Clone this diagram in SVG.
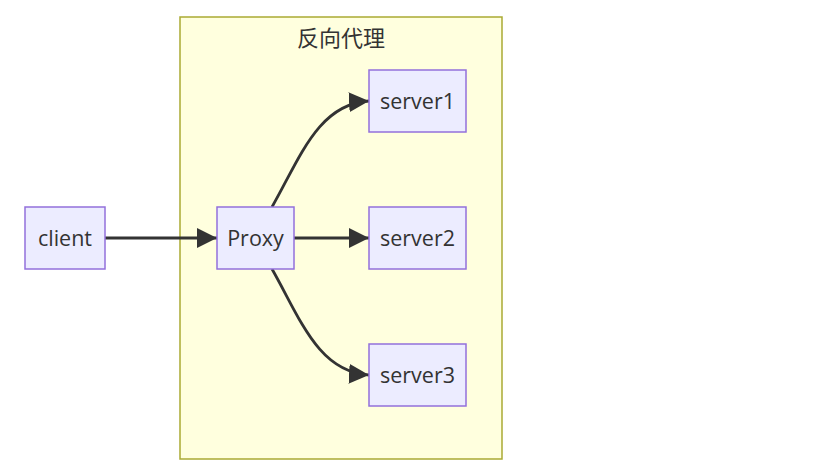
<svg xmlns="http://www.w3.org/2000/svg" width="836" height="476" viewBox="0 0 836 476">
<style>
.node rect{fill:#ECECFF;stroke:#9370DB;stroke-width:1.5}
.node text{font-family:"Open Sans","Noto Sans",sans-serif;font-size:21.5px;fill:#333;text-anchor:middle;dominant-baseline:central}
.cluster rect{fill:#ffffde;stroke:#aaaa33;stroke-width:1.5}
.cluster text{font-family:"Noto Sans CJK SC",sans-serif;font-size:22px;fill:#333;text-anchor:middle;dominant-baseline:central}
.edges path{fill:none;stroke:#333;stroke-width:2.8}
</style>
<defs>
<marker id="arrow" viewBox="0 0 10 10" refX="10" refY="5" markerUnits="userSpaceOnUse" markerWidth="20" markerHeight="20" orient="auto">
<path d="M0,0 L10,5 L0,10 z" fill="#333"/>
</marker>
</defs>
<g id="cluster-fanxiang" class="cluster">
<rect x="180" y="17" width="322" height="442"/>
<text x="341" y="35.5">反向代理</text>
</g>
<g class="edges">
<path d="M105,238 L217,238" marker-end="url(#arrow)"/>
<path d="M294,238 L369,238" marker-end="url(#arrow)"/>
<path d="M272,207 C300,158 318,104 369,101" marker-end="url(#arrow)"/>
<path d="M272,269 C300,318 318,372 369,375" marker-end="url(#arrow)"/>
</g>
<g id="client" class="node"><rect x="25" y="207" width="80" height="62"/><text x="65" y="237">client</text></g>
<g id="Proxy" class="node"><rect x="217" y="207" width="77" height="62"/><text x="255.5" y="237">Proxy</text></g>
<g id="server1" class="node"><rect x="369" y="70" width="97" height="62"/><text x="417.5" y="100">server1</text></g>
<g id="server2" class="node"><rect x="369" y="207" width="97" height="62"/><text x="417.5" y="237">server2</text></g>
<g id="server3" class="node"><rect x="369" y="344" width="97" height="62"/><text x="417.5" y="374">server3</text></g>
</svg>
